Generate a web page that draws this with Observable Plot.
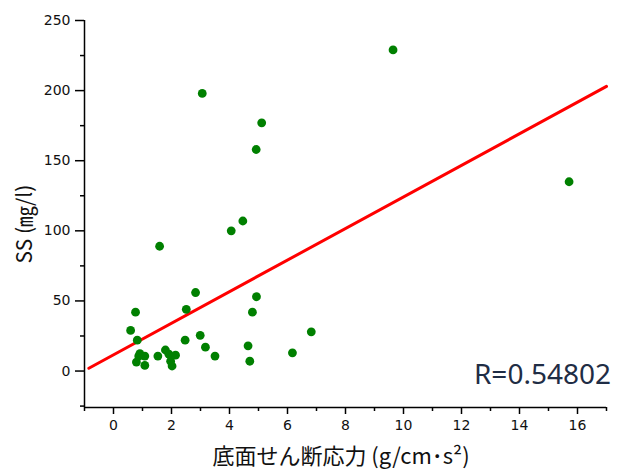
<!DOCTYPE html>
<html>
<head>
<meta charset="utf-8">
<script src="https://cdn.jsdelivr.net/npm/d3@7"></script>
<script src="https://cdn.jsdelivr.net/npm/@observablehq/plot@0.6"></script>
<style>
  html, body { margin: 0; padding: 0; background: #fff; }
  #chart svg { display: block; }
</style>
</head>
<body>
<div id="chart"></div>
<script>
// Shear stress (g/cm·s²)
const shearStress = [9.64, 3.06, 5.11, 4.92, 4.46, 4.06, 15.71, 1.59, 2.83, 4.93,
  0.76, 2.51, 4.79, 0.59, 6.82, 2.99, 0.82, 2.47, 3.17, 4.64,
  6.17, 3.50, 4.70, 0.91, 1.08, 0.79, 1.08, 1.53, 1.79, 1.91,
  2.14, 1.97, 2.02, 0.87];
// SS (mg/l)
const ssValues = [229, 198, 177, 158, 107, 100, 135, 89, 56, 53,
  42, 44, 42, 29, 28, 25.5, 22, 22, 17, 18,
  13, 10.7, 7, 12.4, 10.7, 6.4, 4, 10.7, 15, 12,
  11.3, 7, 3.6, 10.7];
// regression line end points
const fitX = [-0.85, 17];
const fitY = [2, 203];
const rLabel = "R=0.54802";
const xMajor = [0, 2, 4, 6, 8, 10, 12, 14, 16];
const xMinor = [-1, 1, 3, 5, 7, 9, 11, 13, 15, 17];
const yMajor = [0, 50, 100, 150, 200, 250];
const yMinor = [-25, 25, 75, 125, 175, 225];
const xLabel = "底面せん断応力 (g/cm･s²)";
const yLabel = "SS (㎎/l)";

const points = shearStress.map((x, i) => ({x, y: ssValues[i]}));
const fit = fitX.map((x, i) => ({x, y: fitY[i]}));

const tickFont = {fontSize: 14, fontFamily: "DejaVu Sans"};

const plot = Plot.plot({
  width: 617,
  height: 473,
  marginLeft: 84,
  marginRight: 11,
  marginTop: 20,
  marginBottom: 66,
  style: {background: "#fff", color: "#000", fontFamily: "DejaVu Sans", fontSize: "14px"},
  x: {domain: [-1, 17]},
  y: {domain: [-26, 250]},
  marks: [
    Plot.ruleX([-1], {stroke: "#000", strokeWidth: 1.5}),
    Plot.ruleY([-26], {stroke: "#000", strokeWidth: 1.5}),
    Plot.axisX({ticks: xMajor, tickSize: 7, tickPadding: 6, label: null, stroke: "#000", strokeWidth: 1.5, fill: "#111", ...tickFont}),
    Plot.axisX({ticks: xMinor, tickSize: 4, tickFormat: () => "", label: null, stroke: "#000", strokeWidth: 1.5}),
    Plot.axisY({ticks: yMajor, tickSize: 9, tickPadding: 5, label: null, stroke: "#000", strokeWidth: 1.5, fill: "#111", ...tickFont}),
    Plot.axisY({ticks: yMinor, tickSize: 4, tickFormat: () => "", label: null, stroke: "#000", strokeWidth: 1.5}),
    Plot.line(fit, {x: "x", y: "y", stroke: "#ff0000", strokeWidth: 3}),
    Plot.dot(points, {x: "x", y: "y", r: 4.4, fill: "#008000", stroke: "none"})
  ]
});

const svg = d3.select(plot);
svg.append("text")
  .attr("x", 611).attr("y", 384)
  .attr("text-anchor", "end")
  .attr("font-family", "'Noto Sans', 'Open Sans', sans-serif")
  .attr("font-size", 28)
  .attr("fill", "#1f2d45")
  .text(rLabel);
svg.append("text")
  .attr("x", 341).attr("y", 464)
  .attr("text-anchor", "middle")
  .attr("font-family", "'Noto Sans CJK JP', sans-serif")
  .attr("font-size", 22)
  .attr("fill", "#111")
  .text(xLabel);
svg.append("text")
  .attr("transform", "translate(32,224) rotate(-90)")
  .attr("text-anchor", "middle")
  .attr("font-family", "'Noto Sans CJK JP', sans-serif")
  .attr("font-size", 21)
  .attr("fill", "#111")
  .text(yLabel);

document.getElementById("chart").appendChild(plot);
</script>
</body>
</html>
